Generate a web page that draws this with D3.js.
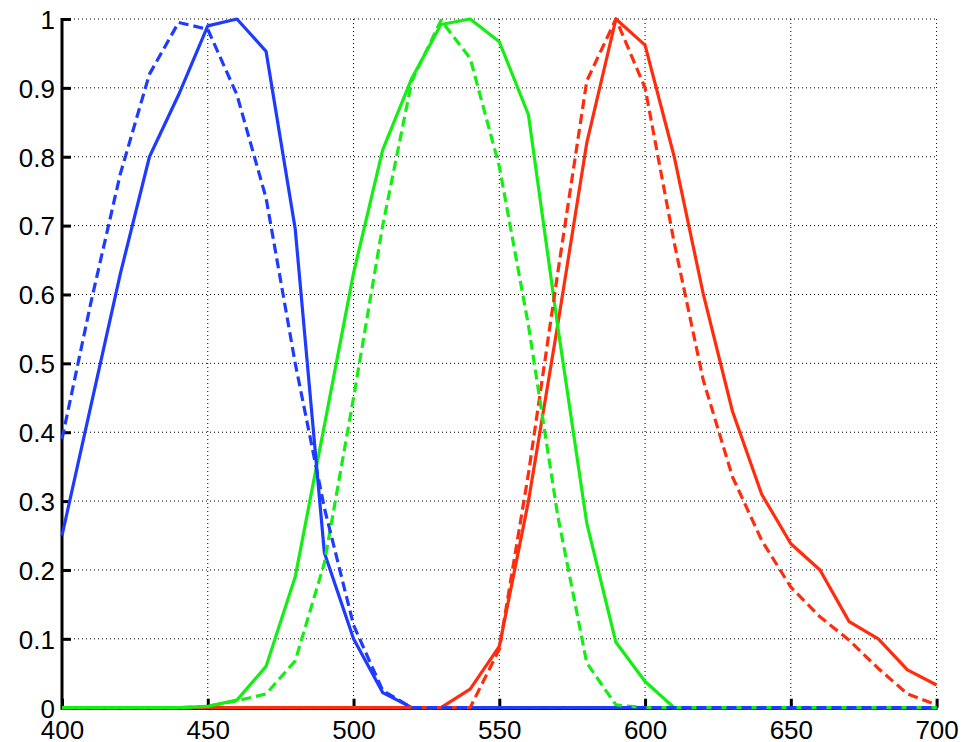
<!DOCTYPE html>
<html>
<head>
<meta charset="utf-8">
<script src="https://cdn.jsdelivr.net/npm/d3@7"></script>
<style>
  html, body { margin: 0; padding: 0; background: #fff; }
  svg { display: block; }
  .tick text { font-family: "Liberation Sans", Arial, sans-serif; font-size: 26px; fill: #000; }
</style>
</head>
<body>
<svg id="chart" width="963" height="742"></svg>
<script>
// ---- data ----
const wavelengths = [400,410,420,430,440,450,460,470,480,490,500,510,520,530,540,550,560,570,580,590,600,610,620,630,640,650,660,670,680,690,700];
const blueSolid   = [0.25,0.44,0.63,0.80,0.89,0.99,1.0,0.953,0.695,0.225,0.10,0.022,0,0,0,0,0,0,0,0,0,0,0,0,0,0,0,0,0,0,0];
const blueDashed  = [0.39,0.59,0.775,0.92,0.995,0.985,0.89,0.74,0.50,0.29,0.12,0.025,0,0,0,0,0,0,0,0,0,0,0,0,0,0,0,0,0,0,0];
const greenSolid  = [0,0,0,0,0,0.002,0.011,0.06,0.19,0.41,0.631,0.81,0.914,0.992,1.0,0.967,0.861,0.555,0.268,0.095,0.038,0,0,0,0,0,0,0,0,0,0];
const greenDashed = [0,0,0,0,0,0.002,0.01,0.02,0.068,0.21,0.45,0.70,0.91,0.998,0.943,0.786,0.555,0.28,0.065,0.004,0,0,0,0,0,0,0,0,0,0,0];
const redSolid    = [0,0,0,0,0,0,0,0,0,0,0,0,0,0,0.027,0.089,0.30,0.555,0.82,1.0,0.962,0.80,0.60,0.43,0.31,0.238,0.20,0.125,0.10,0.055,0.033];
const redDashed   = [0,0,0,0,0,0,0,0,0,0,0,0,0,0,0,0.085,0.34,0.63,0.91,1.0,0.90,0.675,0.475,0.335,0.243,0.175,0.132,0.098,0.057,0.02,0.004];
const xTicks = [400,450,500,550,600,650,700];
const yTicks = [0,0.1,0.2,0.3,0.4,0.5,0.6,0.7,0.8,0.9,1];
const yTickLabels = ["0","0.1","0.2","0.3","0.4","0.5","0.6","0.7","0.8","0.9","1"];

const seriesDefs = [
  { values: redSolid,    color: "#ff2d0d", dashed: false },
  { values: greenSolid,  color: "#14ee14", dashed: false },
  { values: blueSolid,   color: "#1e3cff", dashed: false },
  { values: redDashed,   color: "#ff2d0d", dashed: true },
  { values: greenDashed, color: "#14ee14", dashed: true },
  { values: blueDashed,  color: "#1e3cff", dashed: true }
];

// ---- layout ----
const svg = d3.select("#chart");
const pLeft = 62, pRight = 936.6, pTop = 19, pBottom = 707.7;
const x = d3.scaleLinear().domain([400, 700]).range([pLeft, pRight]);
const y = d3.scaleLinear().domain([0, 1]).range([pBottom, pTop]);

// grid
const grid = svg.append("g");
grid.selectAll("line.vg").data(xTicks.slice(1)).enter().append("line")
  .attr("x1", d => x(d)).attr("x2", d => x(d))
  .attr("y1", pTop).attr("y2", pBottom)
  .attr("stroke", "#000").attr("stroke-width", 1).attr("stroke-dasharray", "1,3");
grid.selectAll("line.hg").data(yTicks.slice(1)).enter().append("line")
  .attr("x1", pLeft).attr("x2", pRight)
  .attr("y1", d => y(d)).attr("y2", d => y(d))
  .attr("stroke", "#000").attr("stroke-width", 1).attr("stroke-dasharray", "1,3");

// axis base lines
svg.append("line").attr("x1", pLeft).attr("x2", pRight + 1).attr("y1", pBottom + 1).attr("y2", pBottom + 1)
  .attr("stroke", "#000").attr("stroke-width", 2.5);
svg.append("line").attr("x1", pLeft).attr("x2", pLeft).attr("y1", pTop - 1).attr("y2", pBottom + 2)
  .attr("stroke", "#000").attr("stroke-width", 3);

// axes with inward ticks
const xAxis = d3.axisBottom(x).tickValues(xTicks).tickSizeInner(-9).tickSizeOuter(0)
  .tickFormat(d3.format("d"));
const gx = svg.append("g").attr("transform", `translate(0,${pBottom})`).call(xAxis);
gx.select(".domain").remove();
gx.selectAll(".tick line").attr("stroke", "#000").attr("stroke-width", 3);
gx.selectAll(".tick text").attr("y", 13).attr("dy", "0.71em");

const yAxis = d3.axisLeft(y).tickValues(yTicks).tickSizeInner(-9).tickSizeOuter(0)
  .tickFormat((d, i) => yTickLabels[i]);
const gy = svg.append("g").attr("transform", `translate(${pLeft},0)`).call(yAxis);
gy.select(".domain").remove();
gy.selectAll(".tick line").attr("stroke", "#000").attr("stroke-width", 3);
gy.selectAll(".tick text").attr("x", -7).attr("dy", "0.36em");

// lines
const lineGen = d3.line().x((d, i) => x(wavelengths[i])).y(d => y(d));
const lines = svg.append("g");
seriesDefs.forEach(s => {
  lines.append("path")
    .datum(s.values)
    .attr("d", lineGen)
    .attr("fill", "none")
    .attr("stroke", s.color)
    .attr("stroke-width", 3.2)
    .attr("stroke-linejoin", "round")
    .attr("stroke-dasharray", s.dashed ? "10,5" : null);
});
</script>
</body>
</html>
